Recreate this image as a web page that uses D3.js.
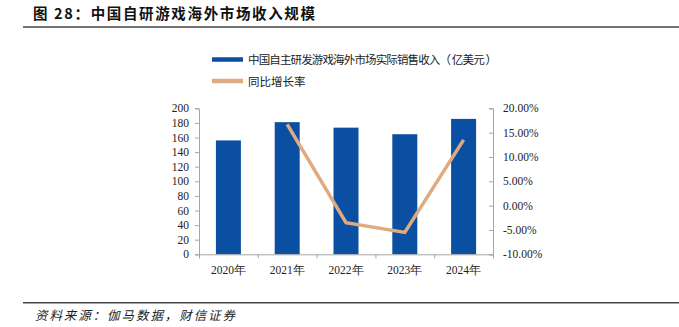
<!DOCTYPE html>
<html><head><meta charset="utf-8">
<script src="https://cdn.jsdelivr.net/npm/d3@7"></script>
<style>body{margin:0;background:#fff}svg{display:block}</style>
</head><body>
<svg id="c" width="679" height="327"></svg>
<script>
const categories = ["2020年","2021年","2022年","2023年","2024年"];
const revenue = [156, 181, 173.5, 164.5, 185.5];
const growth = [null, 16.7, -3.5, -5.5, 13.5];
const leftTicks = [0,20,40,60,80,100,120,140,160,180,200];
const rightTicks = [-10,-5,0,5,10,15,20];
const titleText = "图 28：中国自研游戏海外市场收入规模";
const sourceText = "资料来源：伽马数据，财信证券";
const legendLabels = ["中国自主研发游戏海外市场实际销售收入（ 亿美元 ）","同比增长率"];

const svg = d3.select("#c");
const barColor = "#0B4FA3", lineColor = "#E0AA80", axisColor = "#A6A6A6";
const L = 199, R = 493, T = 108.3, B = 254.3;

svg.append("text").attr("x",33).attr("y",19).text(titleText)
  .attr("font-family","'Noto Sans CJK SC'").attr("font-weight","bold").attr("font-size",14.5)
  .attr("textLength",282).attr("lengthAdjust","spacing").attr("fill","#111");
svg.append("line").attr("x1",23).attr("x2",679).attr("y1",27).attr("y2",27).attr("stroke","#444").attr("stroke-width",1.5);
svg.append("line").attr("x1",23).attr("x2",679).attr("y1",302.7).attr("y2",302.7).attr("stroke","#444").attr("stroke-width",1.5);
svg.append("text").attr("x",35).attr("y",320).text(sourceText)
  .attr("font-family","'Noto Sans CJK SC'").attr("font-style","italic").attr("font-size",12.5)
  .attr("textLength",200).attr("lengthAdjust","spacing").attr("fill","#222");

const x = d3.scaleBand().domain(categories).range([L,R]).paddingInner(0.575).paddingOuter(0.2875);
const yL = d3.scaleLinear().domain([0,200]).range([B,T]);
const yR = d3.scaleLinear().domain([-10,20]).range([B,T]);

svg.append("g").selectAll("rect").data(revenue).join("rect")
  .attr("x",(d,i)=>x(categories[i])).attr("width",x.bandwidth())
  .attr("y",d=>yL(d)).attr("height",d=>B-yL(d)).attr("fill",barColor);

const serif = "'Liberation Serif','Times New Roman',serif";
const gl = svg.append("g").attr("transform",`translate(${L},0)`)
  .call(d3.axisLeft(yL).tickValues(leftTicks).tickSize(4).tickPadding(6));
const gr = svg.append("g").attr("transform",`translate(${R},0)`)
  .call(d3.axisRight(yR).tickValues(rightTicks).tickSize(-4).tickPadding(10).tickFormat(d=>d.toFixed(2)+"%"));
const xb = d3.scaleLinear().domain([0,5]).range([L,R]);
const gx = svg.append("g").attr("transform",`translate(0,${B})`)
  .call(d3.axisBottom(xb).tickValues([0,1,2,3,4,5]).tickSize(4).tickFormat(""));
svg.append("g").selectAll("text").data(categories).join("text")
  .attr("x",d=>x(d)+x.bandwidth()/2).attr("y",B+20).attr("text-anchor","middle")
  .attr("font-family",serif).attr("font-size",11.5).attr("fill","#222").text(d=>d);
[gl,gr,gx].forEach(g=>{
  g.selectAll("path").attr("stroke",axisColor);
  g.selectAll("line").attr("stroke",axisColor);
  g.selectAll("text").attr("font-family",serif).attr("font-size",11.5).attr("fill","#222");
});

const line = d3.line().defined(d=>d[1]!==null)
  .x(d=>x(d[0])+x.bandwidth()/2).y(d=>yR(d[1]));
svg.append("path").datum(categories.map((c,i)=>[c,growth[i]]))
  .attr("d",line).attr("fill","none").attr("stroke",lineColor).attr("stroke-width",3.5);

const lg = svg.append("g");
[[barColor,59.5],[lineColor,81]].forEach((s,i)=>{
  lg.append("line").attr("x1",212).attr("x2",243).attr("y1",s[1]).attr("y2",s[1])
    .attr("stroke",s[0]).attr("stroke-width",4.5);
  const t = lg.append("text").attr("x",248).attr("y",s[1]+4.5).text(legendLabels[i])
    .attr("font-family","'Noto Sans CJK SC'").attr("font-size",11.5).attr("fill","#222");
  if(i===0) t.attr("textLength",249).attr("lengthAdjust","spacing");
});
</script>
</body></html>
